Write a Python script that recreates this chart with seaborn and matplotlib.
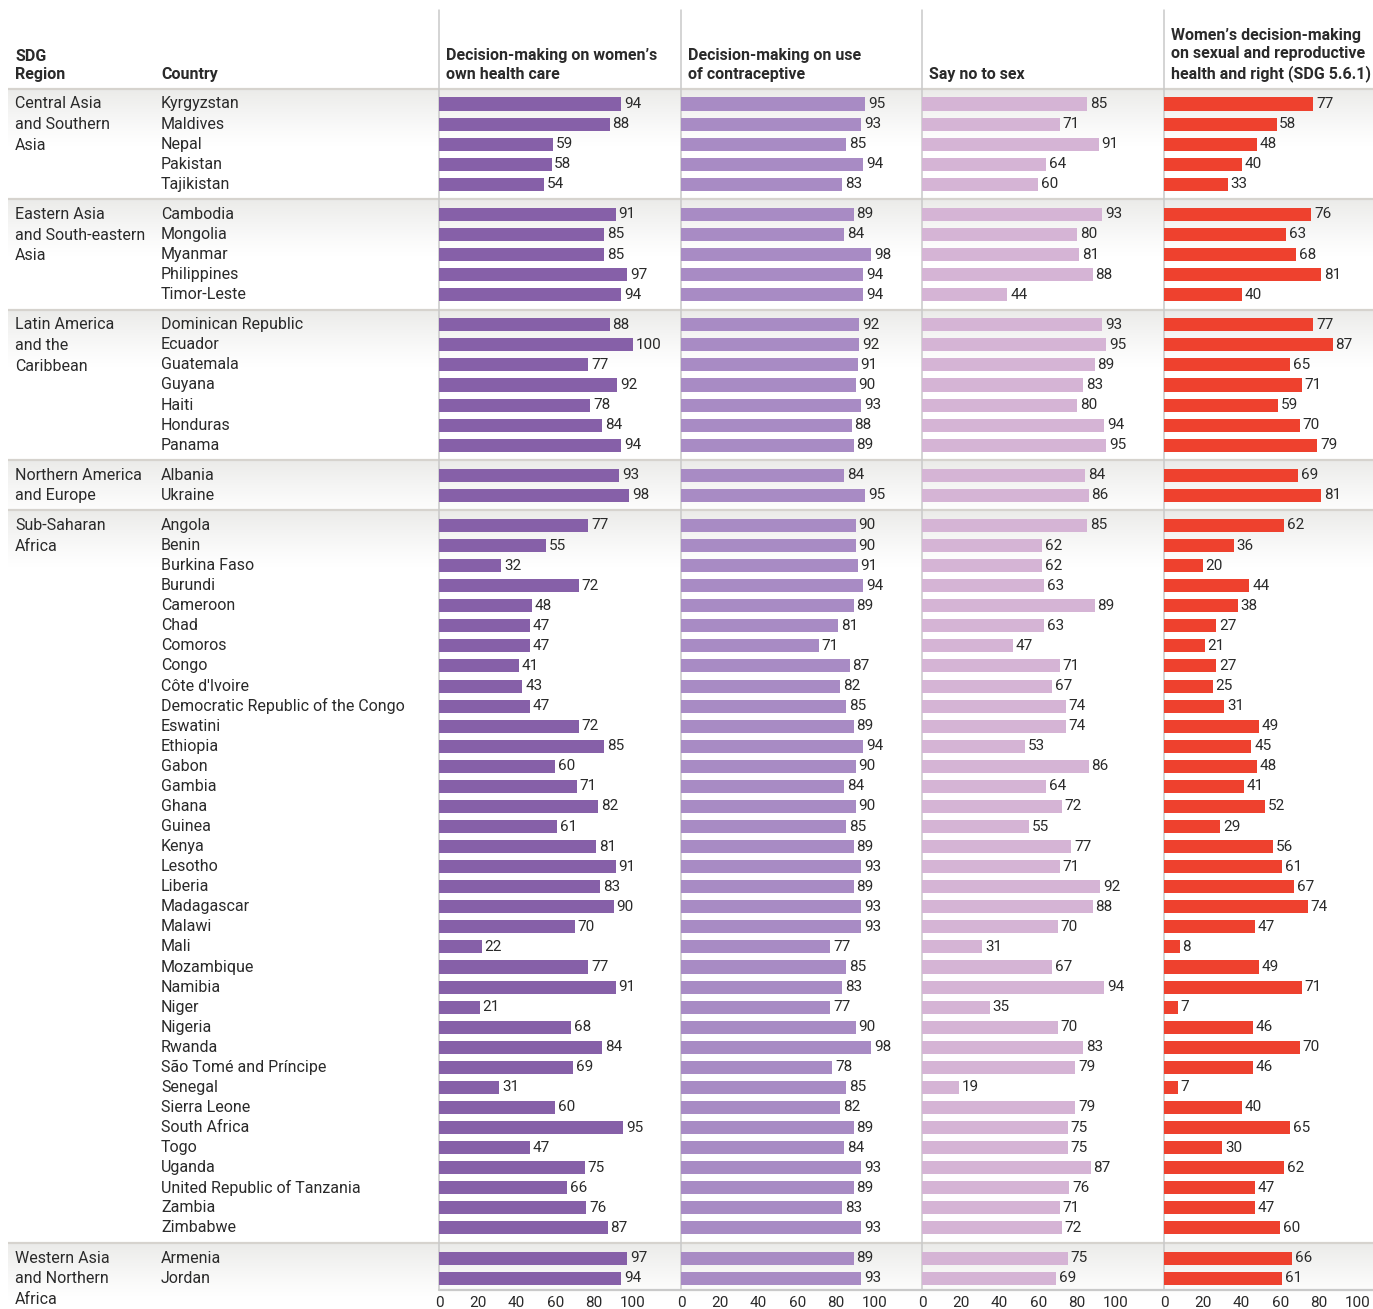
import numpy as np
import pandas as pd
import matplotlib
matplotlib.use("Agg")
import matplotlib.pyplot as plt
import seaborn as sns

# ---------------- data ----------------
region_names = [
    "Central Asia\nand Southern\nAsia",
    "Eastern Asia\nand South-eastern\nAsia",
    "Latin America\nand the\nCaribbean",
    "Northern America\nand Europe",
    "Sub-Saharan\nAfrica",
    "Western Asia\nand Northern\nAfrica",
]
region_sizes = [5, 5, 7, 2, 36, 2]

countries = [
    "Kyrgyzstan", "Maldives", "Nepal", "Pakistan", "Tajikistan",
    "Cambodia", "Mongolia", "Myanmar", "Philippines", "Timor-Leste",
    "Dominican Republic", "Ecuador", "Guatemala", "Guyana", "Haiti", "Honduras", "Panama",
    "Albania", "Ukraine",
    "Angola", "Benin", "Burkina Faso", "Burundi", "Cameroon", "Chad", "Comoros", "Congo",
    "Côte d'Ivoire", "Democratic Republic of the Congo", "Eswatini", "Ethiopia", "Gabon",
    "Gambia", "Ghana", "Guinea", "Kenya", "Lesotho", "Liberia", "Madagascar", "Malawi",
    "Mali", "Mozambique", "Namibia", "Niger", "Nigeria", "Rwanda", "São Tomé and Príncipe",
    "Senegal", "Sierra Leone", "South Africa", "Togo", "Uganda",
    "United Republic of Tanzania", "Zambia", "Zimbabwe",
    "Armenia", "Jordan",
]

health_care = [94, 88, 59, 58, 54,
               91, 85, 85, 97, 94,
               88, 100, 77, 92, 78, 84, 94,
               93, 98,
               77, 55, 32, 72, 48, 47, 47, 41, 43, 47, 72, 85, 60, 71, 82, 61, 81, 91, 83,
               90, 70, 22, 77, 91, 21, 68, 84, 69, 31, 60, 95, 47, 75, 66, 76, 87,
               97, 94]
contraceptive = [95, 93, 85, 94, 83,
                 89, 84, 98, 94, 94,
                 92, 92, 91, 90, 93, 88, 89,
                 84, 95,
                 90, 90, 91, 94, 89, 81, 71, 87, 82, 85, 89, 94, 90, 84, 90, 85, 89, 93, 89,
                 93, 93, 77, 85, 83, 77, 90, 98, 78, 85, 82, 89, 84, 93, 89, 83, 93,
                 89, 93]
say_no = [85, 71, 91, 64, 60,
          93, 80, 81, 88, 44,
          93, 95, 89, 83, 80, 94, 95,
          84, 86,
          85, 62, 62, 63, 89, 63, 47, 71, 67, 74, 74, 53, 86, 64, 72, 55, 77, 71, 92,
          88, 70, 31, 67, 94, 35, 70, 83, 79, 19, 79, 75, 75, 87, 76, 71, 72,
          75, 69]
sdg_561 = [77, 58, 48, 40, 33,
           76, 63, 68, 81, 40,
           77, 87, 65, 71, 59, 70, 79,
           69, 81,
           62, 36, 20, 44, 38, 27, 21, 27, 25, 31, 49, 45, 48, 41, 52, 29, 56, 61, 67,
           74, 47, 8, 49, 71, 7, 46, 70, 46, 7, 40, 65, 30, 62, 47, 47, 60,
           66, 61]

column_titles = [
    "Decision-making on women’s\nown health care",
    "Decision-making on use\nof contraceptive",
    "Say no to sex",
    "Women’s decision-making\non sexual and reproductive\nhealth and right (SDG 5.6.1)",
]
tick_values = [0, 20, 40, 60, 80, 100]

# ---------------- layout helpers ----------------
W, H = 1373, 1309
Y0, S = 104.0, 20.07           # pixel of first row, pixel per row unit
TOP_PIX, BOT_PIX = 89.0, 1290.0
panel_left = [439, 681, 922, 1164]
panel_right = [681, 922, 1164, 1373]
px_per_unit = 1.94
colors = ["#8660a8", "#a88bc4", "#d5b4d5", "#ee412e"]
text_col = "#2a2a2a"
sep_col = "#d6d3ce"
vline_col = "#c9c9c9"

sns.set_theme(style="white")
plt.rcParams["font.family"] = ["Liberation Sans Narrow", "Roboto", "DejaVu Sans"]
plt.rcParams["text.color"] = text_col

# build table
region_col, group_idx = [], []
for g, (r, n) in enumerate(zip(region_names, region_sizes)):
    region_col += [r] * n
    group_idx += [g] * n
df = pd.DataFrame({
    "country": countries,
    "region": region_col,
    "group": group_idx,
    "c0": health_care, "c1": contraceptive, "c2": say_no, "c3": sdg_561,
})
df["pos"] = np.arange(len(df)) + 0.5 * df["group"]

def pos2pix(p):
    return Y0 + p * S

fig = plt.figure(figsize=(W / 100, H / 100), dpi=100)

# background axes in pixel coords
bg = fig.add_axes([0, 0, 1, 1])
bg.set_xlim(0, W)
bg.set_ylim(H, 0)
bg.axis("off")

# group top y (pixel) for gradient & separators
group_first = df.groupby("group")["pos"].min().values
group_last = df.groupby("group")["pos"].max().values
sep_pix = [TOP_PIX] + [pos2pix((group_last[g] + group_first[g + 1]) / 2) for g in range(len(group_first) - 1)]

grad = np.ones((60, 2, 4))
base = np.array([0.925, 0.922, 0.915])
grad[:, :, :3] = base
grad[:, :, 3] = np.linspace(1, 0, 60)[:, None] ** 1.2
for yp in sep_pix:
    bg.imshow(grad, extent=[8, W, yp + 58, yp], aspect="auto", zorder=0, interpolation="bilinear")
    bg.plot([8, W], [yp, yp], color=sep_col, lw=1.6, zorder=1, solid_capstyle="butt")

for xl in panel_left:
    bg.plot([xl, xl], [10, BOT_PIX], color=vline_col, lw=1.1, zorder=1)
bg.plot([panel_left[0], W], [BOT_PIX, BOT_PIX], color=vline_col, lw=1.6, zorder=1)

# headers
bg.text(15, 82, "SDG\nRegion", fontsize=11.5, fontweight="bold", ha="left", va="bottom", linespacing=1.25)
bg.text(161, 82, "Country", fontsize=11.5, fontweight="bold", ha="left", va="bottom")
for xl, t in zip(panel_left, column_titles):
    bg.text(xl + 7, 82, t, fontsize=11.5, fontweight="bold", ha="left", va="bottom", linespacing=1.3)

# country / region text
ylim = ((BOT_PIX - Y0) / S, (TOP_PIX - Y0) / S)
tx = fig.add_axes([0, 1 - BOT_PIX / H, panel_left[0] / W, (BOT_PIX - TOP_PIX) / H])
tx.set_xlim(0, panel_left[0])
tx.set_ylim(*ylim)
tx.axis("off")
tx.patch.set_alpha(0)
for _, row in df.iterrows():
    tx.text(161, row["pos"], row["country"], fontsize=11.5, ha="left", va="center")
for g, r in enumerate(region_names):
    for k, line in enumerate(r.split("\n")):
        tx.text(15, group_first[g] + k * 1.03, line, fontsize=11.5, ha="left", va="center", clip_on=False)

# bar panels
for i in range(4):
    l, rgt = panel_left[i], panel_right[i]
    ax = fig.add_axes([l / W, 1 - BOT_PIX / H, (rgt - l) / W, (BOT_PIX - TOP_PIX) / H])
    ax.patch.set_alpha(0)
    sns.barplot(data=df, x=f"c{i}", y="pos", orient="h", native_scale=True,
                color=colors[i], saturation=1, width=0.65, errorbar=None, ax=ax,
                edgecolor="none", linewidth=0)
    ax.set_xlim(0, (rgt - l) / px_per_unit)
    ax.set_ylim(*ylim)
    ax.set_xlabel("")
    ax.set_ylabel("")
    ax.set_yticks([])
    ax.set_xticks(tick_values)
    ax.set_xticklabels([str(v) for v in tick_values], fontsize=11, color=text_col)
    ax.tick_params(axis="x", length=0, pad=4)
    for sp in ax.spines.values():
        sp.set_visible(False)
    for c in ax.containers:
        ax.bar_label(c, labels=[str(int(v)) for v in df[f"c{i}"]], padding=2, fontsize=11, color=text_col)

fig.savefig("out.png", dpi=100)
